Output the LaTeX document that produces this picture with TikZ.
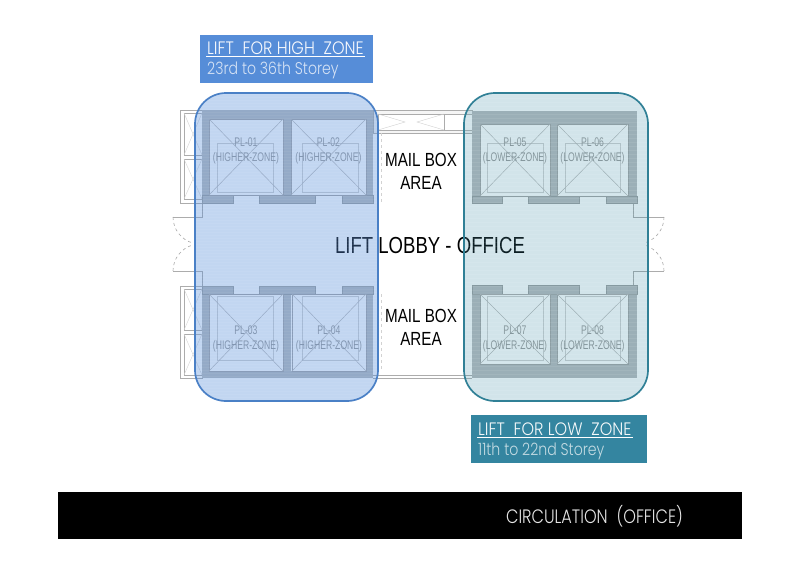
\documentclass[tikz,border=0pt]{standalone}
\usepackage{fontspec}
\setmainfont{Liberation Sans}
\newfontfamily\gothfont[FakeStretch=0.89]{Poppins Light}
\newfontfamily\notefont[FakeStretch=0.83]{Poppins Light}
\newfontfamily\cadfont[FakeStretch=0.69]{Liberation Sans}
\newfontfamily\condfont[FakeStretch=0.8]{Liberation Sans}
\definecolor{highblue}{RGB}{86,141,216}
\definecolor{highedge}{RGB}{74,128,198}
\definecolor{lowteal}{RGB}{52,133,160}
\definecolor{lowedge}{RGB}{48,128,150}
\definecolor{wallgray}{RGB}{184,187,190}
\tikzset{
  wall/.style={draw=wallgray!85!black, fill=wallgray, line width=0.5pt},
  planline/.style={draw=gray!65, line width=0.8pt},
  faintline/.style={draw=gray!35, line width=0.4pt},
  liftcross/.style={draw=gray!70, line width=0.5pt},
  doorswing/.style={draw=gray!70, dashed, line width=0.6pt},
  pllabel/.style={font=\cadfont\fontsize{12.5}{14}\selectfont, text=gray!80, align=center, inner sep=0pt},
  planlabel/.style={font=\condfont\fontsize{19}{22.5}\selectfont, align=center, inner sep=0pt},
  zonetitle/.style={font=\gothfont\fontsize{18}{20}\selectfont, text=white!95!highblue, anchor=west, inner sep=1pt},
  zonenote/.style={font=\notefont\fontsize{17}{20}\selectfont, text=white!75!highblue, anchor=west, inner sep=1pt},
}
\begin{document}
\begin{tikzpicture}[x=1pt,y=-1pt]
  \useasboundingbox (0,0) rectangle (800,565);
  % Top corridor
  \draw[planline, fill=gray!8] (373,110) rectangle (472,133);
  \draw[planline, fill=white] (378,114) rectangle (444,130);
  \draw[planline, fill=white] (444,114) rectangle (472,130);
  \draw[faintline] (378,114) -- (405,122) -- (378,130);
  \draw[faintline] (444,114) -- (417,122) -- (444,130);
  \draw[planline] (373,375) -- (472,375);
  \draw[planline] (373,378) -- (472,378);
  % Mail box edge
  \draw[faintline, dashed] (381,133) -- (381,203);
  \draw[faintline, dashed] (381,294) -- (381,370);
  % Small rooms left of the shafts
  \draw[planline] (180,110) rectangle (202,203);
  \draw[planline] (184,113) rectangle (202,155);
  \draw[planline] (184,159) rectangle (202,199);
  \draw[planline] (180,286) rectangle (202,378);
  \draw[planline] (184,289) rectangle (202,330);
  \draw[planline] (184,334) rectangle (202,375);
  \foreach \ya/\yb in {113/155,159/199,289/330,334/375} {
    \draw[faintline] (184,\ya) -- (202,\yb);
    \draw[faintline] (184,\yb) -- (202,\ya);
  }
  % Doors
  \draw[planline] (202,203) -- (202,217) -- (173,217);
  \draw[planline] (202,286) -- (202,271) -- (173,271);
  \draw[doorswing] (173,217) arc[start angle=180, end angle=105, radius=27];
  \draw[doorswing] (173,271) arc[start angle=180, end angle=255, radius=27];
  \draw[planline] (633,203) -- (633,217) -- (664,217);
  \draw[planline] (633,286) -- (633,271) -- (664,271);
  \draw[doorswing] (664,217) arc[start angle=0, end angle=70, radius=27];
  \draw[doorswing] (664,271) arc[start angle=0, end angle=-70, radius=27];
  % Shaft walls with openings
  \foreach \xa/\xb/\xc/\xd/\xe/\xf/\ya/\yb/\yd in {
    202/209/283/291/366/373/110/119/203,
    472/480/550/557/628/637/111/124/203} {
    \fill[wallgray] (\xa,\ya) rectangle (\xf,\yb);
    \fill[wallgray] (\xa,\ya) rectangle (\xb,\yd);
    \fill[wallgray] (\xc,\ya) rectangle (\xd,\yd);
    \fill[wallgray] (\xe,\ya) rectangle (\xf,\yd);
  }
  \foreach \xa/\xb/\xc/\xd/\xe/\xf/\ya/\yc/\yd in {
    202/209/283/291/366/373/286/371/378,
    472/480/550/557/628/637/285/364/378} {
    \fill[wallgray] (\xa,\yc) rectangle (\xf,\yd);
    \fill[wallgray] (\xa,\ya) rectangle (\xb,\yd);
    \fill[wallgray] (\xc,\ya) rectangle (\xd,\yd);
    \fill[wallgray] (\xe,\ya) rectangle (\xf,\yd);
  }
  % Lift door walls
  \foreach \xa/\xb/\ya/\yb in {
    202/233/195/203, 259/315/195/203, 342/373/195/203,
    202/233/286/294, 259/315/286/294, 342/373/286/294,
    472/502/196/203, 528/579/196/203, 606/637/196/203,
    472/502/285/294, 528/579/285/294, 606/637/285/294} {
    \draw[wall] (\xa,\ya) rectangle (\xb,\yb);
  }
  % Lift cars
  \foreach \xa/\ya/\xb/\yb/\ia/\ib/\ic/\id/\lab/\zone/\ly in {
    209/119/283/195/217/273/143/192/PL-01/HIGHER/142,
    291/119/366/195/302/358/143/192/PL-02/HIGHER/142,
    209/294/283/371/217/273/296/360/PL-03/HIGHER/330,
    292/294/366/371/302/358/296/360/PL-04/HIGHER/330,
    480/124/550/196/487/543/143/192/PL-05/LOWER/142,
    557/124/628/196/565/620/143/192/PL-06/LOWER/142,
    480/294/550/364/487/543/296/360/PL-07/LOWER/330,
    557/294/628/364/565/620/296/360/PL-08/LOWER/330} {
    \draw[liftcross] (\xa,\ya) rectangle (\xb,\yb);
    \draw[faintline] (\ia,\ic) rectangle (\ib,\id);
    \draw[liftcross, draw=gray!55] (\xa,\ya) -- (\xb,\yb);
    \draw[liftcross, draw=gray!55] (\xa,\yb) -- (\xb,\ya);
    \node[pllabel] (\lab) at ({(\xa+\xb)/2},\ly) {\lab};
    \node[pllabel, below=1pt] (\lab-zone) at ({(\xa+\xb)/2},\ly+9) {(\zone-ZONE)};
  }
  % Plan labels
  \node[planlabel] (mailtop) at (421,171.5) {MAIL BOX\\AREA};
  \node[planlabel] (mailbottom) at (421,327.5) {MAIL BOX\\AREA};
  \node[planlabel, font=\condfont\fontsize{23.2}{26}\selectfont] (lobby) at (430,246) {LIFT LOBBY - OFFICE};
  % High zone overlay
  \begin{scope}
    \clip[rounded corners=31] (195,93) rectangle (378,401);
    \fill[highblue, opacity=0.36] (195,93) rectangle (378,401);
    \foreach \y in {94,97,...,400} {
      \draw[white, opacity=0.05, line width=0.8pt] (195,\y) -- (378,\y);
    }
  \end{scope}
  \draw[highedge, line width=1.7pt, rounded corners=31] (195,93) rectangle (378,401);
  % Low zone overlay
  \begin{scope}
    \clip[rounded corners=31] (464,93) rectangle (648,401);
    \fill[lowteal, opacity=0.22] (464,93) rectangle (648,401);
    \foreach \y in {94,98,...,400} {
      \draw[white, opacity=0.08, line width=1pt] (464,\y) -- (648,\y);
    }
  \end{scope}
  \draw[lowedge, line width=1.7pt, rounded corners=31] (464,93) rectangle (648,401);
  % High zone label
  \fill[highblue] (200,35) rectangle (373,83);
  \node[zonetitle] (hightitle) at (206,48.5) {LIFT\ \ FOR\ HIGH\ \ ZONE};
  \node[zonenote] (highnote) at (206,70) {23rd to 36th Storey};
  \draw[white, line width=0.9pt] (hightitle.south west) -- (hightitle.south east);
  % Low zone label
  \fill[lowteal] (471,415) rectangle (647,463);
  \node[zonetitle, text=white!95!lowteal] (lowtitle) at (477,429.5) {LIFT\ \ FOR\ LOW\ \ ZONE};
  \node[zonenote, text=white!70!lowteal] (lownote) at (477,451) {11th to 22nd Storey};
  \draw[white, line width=0.9pt] (lowtitle.south west) -- (lowtitle.south east);
  % Title bar
  \fill[black] (58,492) rectangle (742,539);
  \node[font=\notefont\fontsize{19.4}{22}\selectfont, text=white!90!black, inner sep=0pt] (circulation) at (594.5,516) {CIRCULATION\ \ (OFFICE)};
\end{tikzpicture}
\end{document}
